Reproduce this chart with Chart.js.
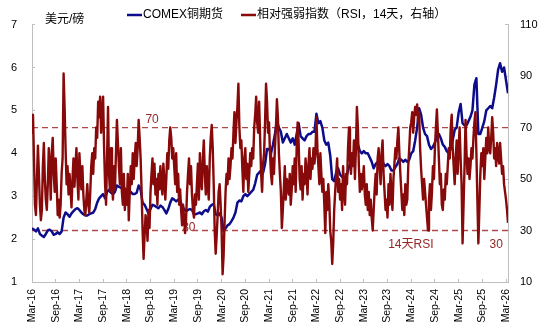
<!DOCTYPE html>
<html>
<head>
<meta charset="utf-8">
<script src="https://cdn.jsdelivr.net/npm/chart.js@4.4.1/dist/chart.umd.min.js"></script>
<style>
  html, body { margin: 0; padding: 0; background: #fff; }
  #wrap { width: 550px; height: 335px; }
</style>
</head>
<body>
<div id="wrap"><canvas id="myChart" width="550" height="335"></canvas></div>
<script>
'use strict';
// tick labels, one every 6 months starting Mar-16
let tickLabels = ['Mar-16', 'Sep-16', 'Mar-17', 'Sep-17', 'Mar-18', 'Sep-18', 'Mar-19', 'Sep-19',
  'Mar-20', 'Sep-20', 'Mar-21', 'Sep-21', 'Mar-22', 'Sep-22', 'Mar-23', 'Sep-23',
  'Mar-24', 'Sep-24', 'Mar-25', 'Sep-25', 'Mar-26'];

// COMEX copper (USD/lb), two readings a month from Mar 2016
let copperPrice = [
  2.25, 2.22, 2.18, 2.25, 2.12, 2.08, 2.05, 2.12, 2.2, 2.22, 2.18, 2.1, 2.12, 2.16, 2.12, 2.18, 2.5, 2.62, 2.58, 2.52, 2.6, 2.65, 2.7, 2.72,
  2.68, 2.62, 2.58, 2.55, 2.55, 2.58, 2.6, 2.62, 2.7, 2.85, 2.95, 3.0, 3.05, 2.95, 3.1, 3.15, 3.08, 3.05, 3.1, 3.25, 3.22, 3.2, 3.15, 3.18,
  3.1, 3.05, 3.1, 3.05, 3.05, 3.08, 3.25, 3.15, 2.85, 2.8, 2.7, 2.6, 2.7, 2.8, 2.78, 2.75, 2.72, 2.78, 2.75, 2.68, 2.6, 2.7, 2.85, 2.95,
  2.92, 2.88, 2.92, 2.9, 2.78, 2.7, 2.65, 2.68, 2.7, 2.68, 2.58, 2.58, 2.6, 2.62, 2.58, 2.65, 2.68, 2.64, 2.75, 2.8, 2.82, 2.58, 2.55, 2.6,
  2.5, 2.2, 2.25, 2.32, 2.35, 2.42, 2.5, 2.62, 2.85, 2.9, 2.88, 3.0, 3.05, 3.0, 3.05, 3.1, 3.15, 3.3, 3.5, 3.55, 3.6, 3.55, 3.75, 4.1,
  4.1, 4.0, 4.2, 4.45, 4.75, 4.6, 4.5, 4.25, 4.35, 4.45, 4.35, 4.25, 4.35, 4.2, 4.45, 4.7, 4.4, 4.35, 4.3, 4.4, 4.45, 4.45, 4.5, 4.5,
  4.92, 4.7, 4.75, 4.6, 4.3, 4.2, 4.25, 3.95, 3.4, 3.35, 3.55, 3.65, 3.5, 3.45, 3.45, 3.4, 3.6, 3.75, 3.8, 3.82, 4.05, 4.2, 4.05, 4.0,
  4.05, 4.0, 4.0, 3.9, 3.8, 3.65, 3.75, 3.8, 3.85, 3.9, 3.75, 3.7, 3.75, 3.7, 3.6, 3.6, 3.68, 3.75, 3.88, 3.85, 3.8, 3.85, 3.8, 3.85,
  4.0, 4.05, 4.3, 4.6, 5.05, 4.9, 4.6, 4.45, 4.4, 4.2, 4.1, 4.15, 4.25, 4.4, 4.45, 4.35, 4.2, 4.15, 4.05, 4.0, 4.1, 4.3, 4.55, 4.6,
  4.95, 5.15, 4.7, 4.65, 4.65, 4.75, 4.85, 5.0, 5.6, 5.75, 4.45, 4.45, 4.6, 4.75, 5.0, 5.05, 5.1, 5.05, 5.3, 5.6, 5.95, 6.1, 5.9, 6.0,
  5.7, 5.4
];

// 14 day RSI, four readings a month from Mar 2016
let rsiValues = [
  68, 75, 58, 40, 36, 50, 63, 52, 40, 34, 38, 55, 64, 50, 42, 38, 48, 62, 55, 42, 60, 66, 52, 45, 58, 48, 36, 42, 35, 40, 52, 58, 91, 78, 62, 48, 55, 44, 52, 46, 39, 50, 58, 47, 55, 62, 50, 42,
  60, 52, 46, 55, 44, 38, 36, 42, 48, 40, 37, 45, 55, 60, 52, 62, 58, 70, 66, 80, 74, 82, 68, 76, 82, 62, 48, 40, 58, 78, 52, 45, 62, 48, 42, 55, 46, 60, 73, 64, 55, 48, 62, 45, 40, 52, 38, 46,
  40, 52, 34, 45, 55, 48, 60, 50, 58, 64, 55, 62, 73, 66, 58, 45, 30, 19, 28, 36, 33, 26, 38, 31, 45, 52, 58, 48, 56, 44, 50, 40, 52, 46, 55, 48, 44, 56, 50, 42, 50, 60, 54, 65, 70, 66, 58, 62,
  55, 48, 60, 45, 52, 40, 46, 38, 32, 40, 35, 29, 34, 45, 52, 58, 48, 55, 44, 38, 35, 44, 40, 48, 56, 42, 60, 50, 46, 58, 65, 52, 44, 55, 48, 42, 58, 66, 71, 62, 48, 30, 21, 28, 36, 45, 48, 40,
  30, 13, 20, 33, 45, 52, 48, 58, 50, 55, 62, 58, 68, 76, 64, 72, 78, 87, 70, 62, 65, 54, 45, 58, 62, 50, 56, 45, 52, 60, 55, 62, 58, 70, 75, 82, 72, 68, 80, 66, 52, 45, 56, 60, 72, 87, 80, 68,
  72, 60, 52, 48, 58, 52, 62, 70, 81, 74, 60, 52, 45, 31, 38, 46, 55, 42, 50, 48, 44, 52, 40, 46, 55, 48, 58, 45, 62, 72, 64, 50, 46, 55, 42, 52, 48, 58, 52, 44, 56, 62, 50, 58, 54, 62, 56, 60,
  74, 62, 55, 48, 60, 52, 45, 50, 40, 29, 45, 38, 48, 42, 30, 26, 17, 25, 38, 45, 52, 58, 45, 50, 42, 48, 38, 55, 46, 40, 52, 48, 62, 70, 58, 52, 60, 55, 65, 50, 62, 78, 70, 55, 45, 52, 46, 50,
  55, 44, 40, 48, 38, 45, 36, 42, 35, 30, 38, 46, 52, 44, 58, 62, 55, 48, 60, 65, 52, 45, 38, 42, 35, 48, 40, 52, 44, 38, 50, 56, 62, 58, 65, 70, 60, 52, 45, 38, 44, 36, 48, 40, 42, 55, 62, 70,
  72, 76, 68, 74, 78, 75, 79, 72, 76, 62, 54, 48, 42, 50, 45, 40, 35, 30, 42, 48, 38, 45, 55, 50, 62, 70, 77, 68, 58, 48, 52, 40, 38, 46, 42, 52, 48, 55, 62, 58, 70, 75, 62, 55, 48, 58, 65, 52,
  62, 70, 58, 48, 25, 40, 55, 73, 60, 52, 58, 50, 55, 62, 58, 66, 72, 76, 60, 42, 25, 38, 52, 60, 55, 62, 50, 58, 66, 60, 70, 62, 60, 66, 74, 68, 58, 62, 55, 64, 60, 56, 64, 58, 52, 55, 48, 45,
  42, 38, 33
];

let rsiLevels = [70, 30];
let copperStep = 0.5;  // months between copper readings
let rsiStep = 0.25;    // months between rsi readings
let lastMonth = 120.5;

let blue = '#0d0d8c';
let darkRed = '#870909';
let dashColor = '#b04848';
let labelRed = '#952626';
let axisGrey = '#bfbfbf';
let font = '"Liberation Sans", Arial, sans-serif';
let cjkFont = '"Liberation Sans", "Noto Sans CJK SC", sans-serif';

let copperPoints = copperPrice.map((v, i) => ({ x: i * copperStep, y: v }));
let rsiPoints = rsiValues.map((v, i) => ({ x: i * rsiStep, y: v }));

let levelSets = rsiLevels.map(level => ({
  label: 'level' + level,
  data: [{ x: 0, y: level }, { x: lastMonth, y: level }],
  yAxisID: 'y1',
  borderColor: dashColor,
  borderWidth: 1.3,
  borderDash: [6, 4],
  pointRadius: 0,
  order: 3
}));

// legend, unit and level labels
let extraText = {
  id: 'extraText',
  beforeDatasetsDraw(chart) {
    let ctx = chart.ctx;
    let x = chart.scales.x;
    let y1 = chart.scales.y1;
    ctx.save();
    ctx.font = '12px ' + cjkFont;
    ctx.fillStyle = labelRed;
    ctx.textAlign = 'center';
    ctx.textBaseline = 'alphabetic';
    ctx.fillText('70', x.getPixelForValue(30.4), y1.getPixelForValue(70) - 4.5);
    ctx.fillText('30', x.getPixelForValue(39.7), y1.getPixelForValue(30) + 0.5);
    ctx.fillText('14天RSI', x.getPixelForValue(95.9), y1.getPixelForValue(30) + 17);
    ctx.fillText('30', x.getPixelForValue(117.5), y1.getPixelForValue(30) + 17);
    ctx.restore();
  },
  afterDraw(chart) {
    let ctx = chart.ctx;
    let sets = chart.data.datasets;
    let legendX = [127, 241];
    ctx.save();
    ctx.font = '12px ' + cjkFont;
    ctx.textBaseline = 'middle';
    ctx.textAlign = 'left';
    for (let i = 0; i < 2; i++) {
      ctx.strokeStyle = sets[i].borderColor;
      ctx.lineWidth = 2.5;
      ctx.beginPath();
      ctx.moveTo(legendX[i], 15);
      ctx.lineTo(legendX[i] + 15, 15);
      ctx.stroke();
      ctx.fillStyle = '#000';
      ctx.fillText(sets[i].label, legendX[i] + 16, 15);
    }
    ctx.fillText('美元/磅', 45, 19.5);
    ctx.restore();
  }
};

let ctx = document.getElementById('myChart').getContext('2d');
let chart = new Chart(ctx, {
  type: 'line',
  data: {
    datasets: [
      {
        label: 'COMEX铜期货',
        data: copperPoints,
        yAxisID: 'y',
        borderColor: blue,
        borderWidth: 2.5,
        pointRadius: 0,
        borderJoinStyle: 'round',
        order: 2
      },
      {
        label: '相对强弱指数（RSI，14天，右轴）',
        data: rsiPoints,
        yAxisID: 'y1',
        borderColor: darkRed,
        borderWidth: 2.4,
        pointRadius: 0,
        borderJoinStyle: 'round',
        order: 1
      }
    ].concat(levelSets)
  },
  options: {
    responsive: false,
    animation: false,
    devicePixelRatio: 1,
    layout: { padding: { top: 24, left: 0, right: 0, bottom: 0 } },
    plugins: {
      legend: { display: false },
      tooltip: { enabled: false }
    },
    scales: {
      x: {
        type: 'linear',
        min: 0,
        max: lastMonth,
        grid: { drawOnChartArea: false, tickLength: -3, color: axisGrey },
        border: { color: axisGrey },
        ticks: {
          stepSize: 6,
          includeBounds: false,
          autoSkip: false,
          maxRotation: 90,
          minRotation: 90,
          padding: 10,
          color: '#000',
          font: { family: font, size: 10.5 },
          callback: function (value) { return tickLabels[Math.round(value / 6)]; }
        },
        afterFit: function (scale) { scale.height = 53; }
      },
      y: {
        position: 'left',
        min: 1,
        max: 7,
        grid: { drawOnChartArea: false, tickLength: -3, color: axisGrey },
        border: { color: axisGrey },
        ticks: { stepSize: 1, padding: 18, color: '#000', font: { family: font, size: 11 } },
        afterFit: function (scale) { scale.width = 32; }
      },
      y1: {
        position: 'right',
        min: 10,
        max: 110,
        grid: { drawOnChartArea: false, tickLength: -3, color: axisGrey },
        border: { color: axisGrey },
        ticks: { stepSize: 20, padding: 15, color: '#000', font: { family: font, size: 11 } },
        afterFit: function (scale) { scale.width = 42; }
      }
    }
  },
  plugins: [extraText]
});
</script>
</body>
</html>
